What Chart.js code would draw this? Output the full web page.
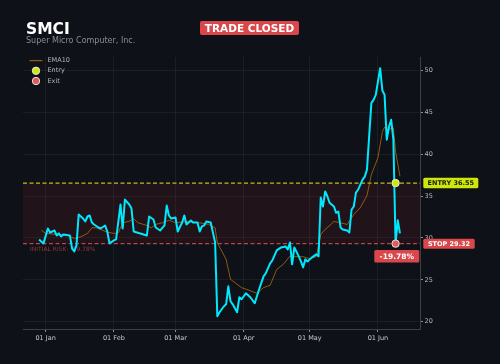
<!DOCTYPE html>
<html>
<head>
<meta charset="utf-8">
<title>SMCI trade</title>
<script src="https://cdn.jsdelivr.net/npm/chart.js@4.4.1/dist/chart.umd.min.js"></script>
<style>
    html, body { margin: 0; padding: 0; background: #0e1117; overflow: hidden; }
    #wrap { position: relative; width: 500px; height: 364px; font-family: "DejaVu Sans", sans-serif; }
    #chart { position: absolute; left: 0; top: 0; }
    .ticker { position: absolute; left: 26px; top: 22px; color: #ffffff; font-size: 15.5px; line-height: 15px; font-weight: bold; }
    .company { position: absolute; left: 26px; top: 37px; color: #8a8e95; font-size: 8px; line-height: 8px; }
    .status { position: absolute; left: 200px; top: 21px; width: 99px; height: 14px; line-height: 14px; background: #d9474b; color: #ffffff; font-size: 10.5px; font-weight: bold; text-align: center; border-radius: 2px; }
</style>
</head>
<body>
<div id="wrap">
    <canvas id="chart" width="500" height="364"></canvas>
    <div class="ticker">SMCI</div>
    <div class="company">Super Micro Computer, Inc.</div>
    <div class="status">TRADE CLOSED</div>
</div>
<script>
// Daily close
const closeDates = [
    '2024-12-29', '2024-12-31', '2025-01-02', '2025-01-03', '2025-01-05', '2025-01-06', '2025-01-07', '2025-01-08', '2025-01-09', '2025-01-12',
    '2025-01-13', '2025-01-14', '2025-01-15', '2025-01-16', '2025-01-18', '2025-01-19', '2025-01-20', '2025-01-21', '2025-01-22', '2025-01-23',
    '2025-01-25', '2025-01-26', '2025-01-28', '2025-01-29', '2025-01-30', '2025-02-01', '2025-02-02', '2025-02-04', '2025-02-05', '2025-02-06',
    '2025-02-08', '2025-02-09', '2025-02-10', '2025-02-13', '2025-02-16', '2025-02-17', '2025-02-19', '2025-02-20', '2025-02-22', '2025-02-24',
    '2025-02-25', '2025-02-26', '2025-02-27', '2025-03-01', '2025-03-02', '2025-03-04', '2025-03-05', '2025-03-06', '2025-03-07', '2025-03-08',
    '2025-03-09', '2025-03-11', '2025-03-12', '2025-03-13', '2025-03-14', '2025-03-15', '2025-03-17', '2025-03-18', '2025-03-19', '2025-03-20',
    '2025-03-21', '2025-03-23', '2025-03-24', '2025-03-25', '2025-03-26', '2025-03-27', '2025-03-29', '2025-03-30', '2025-03-31', '2025-04-02',
    '2025-04-04', '2025-04-06', '2025-04-07', '2025-04-08', '2025-04-10', '2025-04-11', '2025-04-13', '2025-04-14', '2025-04-16', '2025-04-18',
    '2025-04-20', '2025-04-21', '2025-04-22', '2025-04-23', '2025-04-24', '2025-04-26', '2025-04-27', '2025-04-28', '2025-04-29', '2025-04-30',
    '2025-05-02', '2025-05-04', '2025-05-05', '2025-05-06', '2025-05-07', '2025-05-08', '2025-05-09', '2025-05-10', '2025-05-12', '2025-05-13',
    '2025-05-14', '2025-05-15', '2025-05-16', '2025-05-18', '2025-05-19', '2025-05-20', '2025-05-21', '2025-05-22', '2025-05-23', '2025-05-24',
    '2025-05-25', '2025-05-26', '2025-05-27', '2025-05-29', '2025-05-30', '2025-05-31', '2025-06-02', '2025-06-03', '2025-06-04', '2025-06-05',
    '2025-06-06', '2025-06-07', '2025-06-08', '2025-06-09', '2025-06-10', '2025-06-11'
];
const closePrices = [
    29.82, 29.35, 31.13, 30.65, 30.89, 30.30, 30.54, 30.18, 30.42, 30.30,
    28.75, 28.39, 29.11, 32.80, 32.32, 31.96, 32.56, 32.68, 31.85, 31.61,
    31.25, 31.13, 31.49, 30.77, 29.35, 29.70, 29.82, 33.99, 31.13, 34.58,
    33.99, 33.51, 30.77, 30.54, 30.30, 32.56, 32.20, 31.25, 30.89, 31.49,
    33.87, 32.68, 32.32, 32.44, 30.77, 31.85, 32.68, 31.61, 31.85, 32.08,
    31.85, 31.85, 30.77, 31.37, 31.49, 31.96, 31.85, 30.65, 29.46, 20.65,
    21.13, 21.85, 22.08, 24.23, 22.44, 22.08, 21.13, 22.92, 22.68, 23.39,
    22.92, 22.20, 23.04, 23.87, 25.42, 25.77, 26.96, 27.32, 28.51, 28.87,
    28.99, 28.63, 29.46, 26.85, 28.87, 27.80, 27.20, 26.49, 27.44, 27.20,
    27.68, 28.04, 27.80, 34.82, 33.75, 35.54, 34.98, 34.20, 33.75, 33.00,
    33.15, 31.25, 31.01, 30.89, 30.65, 33.39, 33.75, 35.42, 35.77, 36.37,
    36.96, 37.32, 38.15, 46.13, 46.49, 47.08, 50.26, 47.60, 47.08, 41.73,
    43.27, 44.11, 41.73, 29.32, 32.10, 30.54
];

// EMA10 as drawn in the picture
const emaDates = [
    '2024-12-30', '2025-01-01', '2025-01-06', '2025-01-11', '2025-01-14', '2025-01-17', '2025-01-20', '2025-01-22', '2025-01-24', '2025-01-26',
    '2025-01-29', '2025-02-01', '2025-02-03', '2025-02-05', '2025-02-08', '2025-02-10', '2025-02-12', '2025-02-16', '2025-02-18', '2025-02-20',
    '2025-02-23', '2025-02-26', '2025-03-01', '2025-03-06', '2025-03-09', '2025-03-12', '2025-03-16', '2025-03-19', '2025-03-20', '2025-03-24',
    '2025-03-26', '2025-03-31', '2025-04-03', '2025-04-07', '2025-04-10', '2025-04-13', '2025-04-16', '2025-04-19', '2025-04-22', '2025-04-24',
    '2025-04-28', '2025-05-01', '2025-05-04', '2025-05-06', '2025-05-08', '2025-05-12', '2025-05-15', '2025-05-18', '2025-05-21', '2025-05-24',
    '2025-05-27', '2025-05-29', '2025-06-01', '2025-06-03', '2025-06-04', '2025-06-05', '2025-06-08', '2025-06-09', '2025-06-11'
];
const emaValues = [
    30.93, 30.54, 30.42, 30.30, 29.94, 30.14, 30.54, 31.21, 31.21, 31.01,
    30.69, 30.54, 30.62, 31.81, 32.00, 32.29, 31.81, 31.49, 31.21, 31.61,
    31.81, 32.12, 31.81, 31.96, 31.88, 31.81, 31.61, 31.21, 29.43, 27.44,
    25.06, 24.07, 23.79, 23.39, 24.07, 24.35, 26.25, 26.85, 27.83, 27.76,
    27.76, 27.52, 27.76, 30.42, 31.01, 31.96, 31.81, 31.61, 32.80, 33.63,
    35.06, 37.56, 39.58, 42.68, 43.24, 42.92, 43.12, 40.30, 37.36
];

// Trade
const entryDate = '2025-06-09';
const entryPrice = 36.55;
const exitDate = '2025-06-09';
const exitPrice = 29.32;
const riskPct = -19.78;

// Axis ticks
const xTickDates = ['2025-01-01', '2025-02-01', '2025-03-01', '2025-04-01', '2025-05-01', '2025-06-01'];
const xTickLabels = ['01 Jan', '01 Feb', '01 Mar', '01 Apr', '01 May', '01 Jun'];
const yTicks = [20, 25, 30, 35, 40, 45, 50];

// Colours
const bgColor = '#0e1117';
const gridColor = 'rgba(255,255,255,0.055)';
const closeColor = '#00e8ff';
const emaColor = 'rgba(196,118,22,0.7)';
const entryColor = '#cde60c';
const stopColor = '#d9474b';

const origin = Date.UTC(2025, 0, 1);
function dayOf(s) {
    const [y, m, d] = s.split('-').map(Number);
    return (Date.UTC(y, m - 1, d) - origin) / 86400000;
}

const closeSeries = closeDates.map((d, i) => ({ x: dayOf(d), y: closePrices[i] }));
const emaSeries = emaDates.map((d, i) => ({ x: dayOf(d), y: emaValues[i] }));

function roundRect(ctx, x, y, w, h, r) {
    ctx.beginPath();
    ctx.moveTo(x + r, y);
    ctx.lineTo(x + w - r, y);
    ctx.quadraticCurveTo(x + w, y, x + w, y + r);
    ctx.lineTo(x + w, y + h - r);
    ctx.quadraticCurveTo(x + w, y + h, x + w - r, y + h);
    ctx.lineTo(x + r, y + h);
    ctx.quadraticCurveTo(x, y + h, x, y + h - r);
    ctx.lineTo(x, y + r);
    ctx.quadraticCurveTo(x, y, x + r, y);
    ctx.closePath();
}

function badge(ctx, text, x, yc, w, h, bg, fg, size) {
    ctx.fillStyle = bg;
    roundRect(ctx, x, yc - h / 2, w, h, 1.5);
    ctx.fill();
    ctx.fillStyle = fg;
    ctx.font = 'bold ' + size + 'px "DejaVu Sans"';
    ctx.textAlign = 'center';
    ctx.textBaseline = 'middle';
    ctx.fillText(text, x + w / 2, yc + 0.5);
}

// Shaded risk zone with the entry / stop lines
const riskZone = {
    id: 'riskZone',
    beforeDatasetsDraw(chart) {
        const { ctx, chartArea: a, scales: { y } } = chart;
        const yE = y.getPixelForValue(entryPrice);
        const yS = y.getPixelForValue(exitPrice);
        ctx.save();
        ctx.fillStyle = 'rgba(200,40,45,0.10)';
        ctx.fillRect(a.left, yE, a.right - a.left, yS - yE);
        ctx.setLineDash([4, 2.5]);
        ctx.lineWidth = 1.3;
        ctx.strokeStyle = '#b4c41c';
        ctx.beginPath(); ctx.moveTo(a.left, yE); ctx.lineTo(a.right, yE); ctx.stroke();
        ctx.strokeStyle = '#b9454a';
        ctx.beginPath(); ctx.moveTo(a.left, yS); ctx.lineTo(a.right, yS); ctx.stroke();
        ctx.setLineDash([]);
        ctx.fillStyle = '#8e3a3d';
        ctx.font = '6px "DejaVu Sans"';
        ctx.textBaseline = 'middle';
        ctx.fillText('INITIAL RISK: ' + riskPct.toFixed(2) + '%', a.left + 7, yS + 5.5);
        ctx.restore();
    }
};

// Price tags on the right and the result tag
const tradeTags = {
    id: 'tradeTags',
    afterDatasetsDraw(chart) {
        const { ctx, chartArea: a, scales: { y } } = chart;
        const yE = y.getPixelForValue(entryPrice);
        const yS = y.getPixelForValue(exitPrice);
        ctx.save();
        badge(ctx, 'ENTRY ' + entryPrice.toFixed(2), a.right + 3.3, yE, 55, 10.5, entryColor, '#1b1e0c', 6.5);
        badge(ctx, 'STOP ' + exitPrice.toFixed(2), a.right + 3.3, yS, 51.4, 10, stopColor, '#ffffff', 6.5);
        badge(ctx, riskPct.toFixed(2) + '%', a.right - 45.7, yS + 12.6, 45, 12.7, stopColor, '#ffffff', 7.5);
        ctx.restore();
    }
};

// Small legend in the top-left corner of the plot
const cornerLegend = {
    id: 'cornerLegend',
    afterDatasetsDraw(chart) {
        const { ctx, chartArea: a } = chart;
        const items = ['EMA10', 'Entry', 'Exit'].map(l => chart.data.datasets.find(ds => ds.label === l));
        ctx.save();
        ctx.font = '6.5px "DejaVu Sans"';
        ctx.textBaseline = 'middle';
        items.forEach((ds, i) => {
            const cy = a.top + 3.6 + i * 10.2;
            const cx = a.left + 13;
            if (ds.showLine === false) {
                ctx.beginPath();
                ctx.arc(cx, cy, 3.7, 0, Math.PI * 2);
                ctx.fillStyle = ds.pointBackgroundColor;
                ctx.fill();
                ctx.lineWidth = 0.9;
                ctx.strokeStyle = '#f0f0f0';
                ctx.stroke();
            } else {
                ctx.beginPath();
                ctx.moveTo(cx - 6.5, cy);
                ctx.lineTo(cx + 6.5, cy);
                ctx.lineWidth = 1.3;
                ctx.strokeStyle = ds.borderColor;
                ctx.stroke();
            }
            ctx.fillStyle = '#b4b8be';
            ctx.fillText(ds.label, a.left + 24.5, cy);
        });
        ctx.restore();
    }
};

Chart.defaults.font.family = '"DejaVu Sans", sans-serif';

const ctx = document.getElementById('chart').getContext('2d');
const myChart = new Chart(ctx, {
    type: 'line',
    data: {
        datasets: [
            {
                label: 'Entry',
                data: [{ x: dayOf(entryDate), y: entryPrice }],
                showLine: false,
                pointRadius: 3.7,
                pointBackgroundColor: entryColor,
                pointBorderColor: '#f0f0f0',
                pointBorderWidth: 0.9
            },
            {
                label: 'Exit',
                data: [{ x: dayOf(exitDate), y: exitPrice }],
                showLine: false,
                pointRadius: 3.7,
                pointBackgroundColor: '#e25a5a',
                pointBorderColor: '#f0f0f0',
                pointBorderWidth: 0.9
            },
            {
                label: 'Close',
                data: closeSeries,
                borderColor: closeColor,
                borderWidth: 2,
                borderJoinStyle: 'round',
                pointRadius: 0,
                tension: 0
            },
            {
                label: 'EMA10',
                data: emaSeries,
                borderColor: emaColor,
                borderWidth: 1,
                pointRadius: 0,
                tension: 0
            }
        ]
    },
    options: {
        responsive: false,
        animation: false,
        layout: { padding: { left: 23, top: 57, right: 0, bottom: 0 } },
        plugins: {
            legend: { display: false },
            tooltip: { enabled: false }
        },
        scales: {
            x: {
                type: 'linear',
                min: -10.3,
                max: 170.1,
                afterBuildTicks: (axis) => { axis.ticks = xTickDates.map(d => ({ value: dayOf(d) })); },
                afterFit: (axis) => { axis.height = 35; },
                grid: { color: gridColor, tickColor: '#8a8f96', tickLength: 3 },
                border: { color: '#3a3f48', width: 1 },
                ticks: {
                    color: '#c8cbd0',
                    font: { size: 6.5 },
                    padding: 2,
                    maxRotation: 0,
                    autoSkip: false,
                    callback: (v) => xTickLabels[xTickDates.findIndex(d => dayOf(d) === v)]
                }
            },
            y: {
                position: 'right',
                min: 19.13,
                max: 51.6,
                afterBuildTicks: (axis) => { axis.ticks = yTicks.map(v => ({ value: v })); },
                afterFit: (axis) => { axis.width = 80; },
                grid: { color: gridColor, tickColor: '#8a8f96', tickLength: 3 },
                border: { color: '#3a3f48', width: 1 },
                ticks: {
                    color: '#b4b8be',
                    font: { size: 6.5 },
                    padding: 1.5
                }
            }
        }
    },
    plugins: [riskZone, tradeTags, cornerLegend]
});
</script>
</body>
</html>
